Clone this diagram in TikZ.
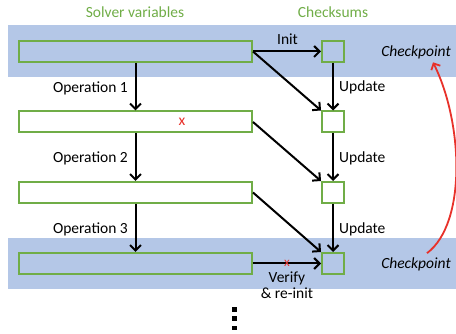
\documentclass[tikz,border=0pt]{standalone}
\usepackage{fontspec}
\setmainfont{Carlito}
\usetikzlibrary{arrows.meta, calc}
\definecolor{BandBlue}{HTML}{B4C7E7}
\definecolor{BoxGreen}{HTML}{70AD47}
\definecolor{MarkRed}{HTML}{E8312A}

\begin{document}
\begin{tikzpicture}[x=1pt, y=-1pt,
    font=\fontsize{15.5}{16}\selectfont,
    varbox/.style={draw=BoxGreen, line width=2pt, minimum width=233pt, minimum height=21pt, inner sep=0pt},
    sumbox/.style={draw=BoxGreen, line width=2pt, minimum width=22pt, minimum height=21pt, inner sep=0pt},
    arrow/.style={-{Straight Barb[length=5.5pt, width=11pt]}, line width=2pt},
    redarrow/.style={-{Straight Barb[length=5pt, width=10pt]}, line width=1.8pt, MarkRed},
    head/.style={text=BoxGreen},
    lbl/.style={inner sep=1pt}
  ]
    \useasboundingbox (0,0) rectangle (456,334);
    % checkpoint bands
    \fill[BandBlue] (8,25) rectangle (456,77);
    \fill[BandBlue] (8,238) rectangle (456,289);

    \node[head] (hvar) at (135,12) {Solver variables};
    \node[head] (hsum) at (333,12) {Checksums};

    \node[varbox] (v1) at (135.5,51.5) {};
    \node[varbox, fill=white] (v2) at (135.5,122) {};
    \node[varbox, fill=white] (v3) at (135.5,192.5) {};
    \node[varbox] (v4) at (135.5,263.5) {};

    \node[sumbox] (c1) at (333,51.5) {};
    \node[sumbox, fill=white] (c2) at (333,122) {};
    \node[sumbox, fill=white] (c3) at (333,192.5) {};
    \node[sumbox] (c4) at (333,263.5) {};

    \draw[arrow] (v1.south) -- (v2.north);
    \draw[arrow] (v2.south) -- (v3.north);
    \draw[arrow] (v3.south) -- (v4.north);
    \draw[arrow] (c1.south) -- (c2.north);
    \draw[arrow] (c2.south) -- (c3.north);
    \draw[arrow] (c3.south) -- (c4.north);
    \draw[arrow] (v1.east) -- (c2.north west);
    \draw[arrow] (v2.east) -- (c3.north west);
    \draw[arrow] (v3.east) -- (c4.north west);
    \draw[arrow] (v1.east) -- (c1.west);
    \draw[arrow] (v4.east) -- (c4.west);

    \node[lbl, anchor=east] (op1) at (129,88.5) {Operation 1};
    \node[lbl, anchor=east] (op2) at (129,158) {Operation 2};
    \node[lbl, anchor=east] (op3) at (129,229) {Operation 3};
    \node[lbl, anchor=west] (up1) at (338,87) {Update};
    \node[lbl, anchor=west] (up2) at (338,158) {Update};
    \node[lbl, anchor=west] (up3) at (338,229) {Update};

    \node[lbl] (init) at (287.5,39.5) {Init};
    \node[lbl, align=center] (verify) at (287,285) {Verify\\\& re-init};

    \node[lbl, text=MarkRed] (err1) at (182,122) {x};
    \node[lbl, text=MarkRed, font=\fontsize{13}{14}\selectfont] (err2) at (287,263) {x};

    \node[lbl] (chk1) at (416,52.5) {\itshape Checkpoint};
    \node[lbl] (chk2) at (416,264) {\itshape Checkpoint};
    \draw[redarrow] ([xshift=11pt,yshift=3pt]chk2.north) .. controls +(40,-30) and +(30,60) .. ([xshift=17pt,yshift=-2pt]chk1.south);

    % continuation dots
    \foreach \y in {309.5,318.5,328} {
      \fill (232.3,\y-2.2) rectangle (236.7,\y+2.2);
    }
  \end{tikzpicture}
\end{document}
